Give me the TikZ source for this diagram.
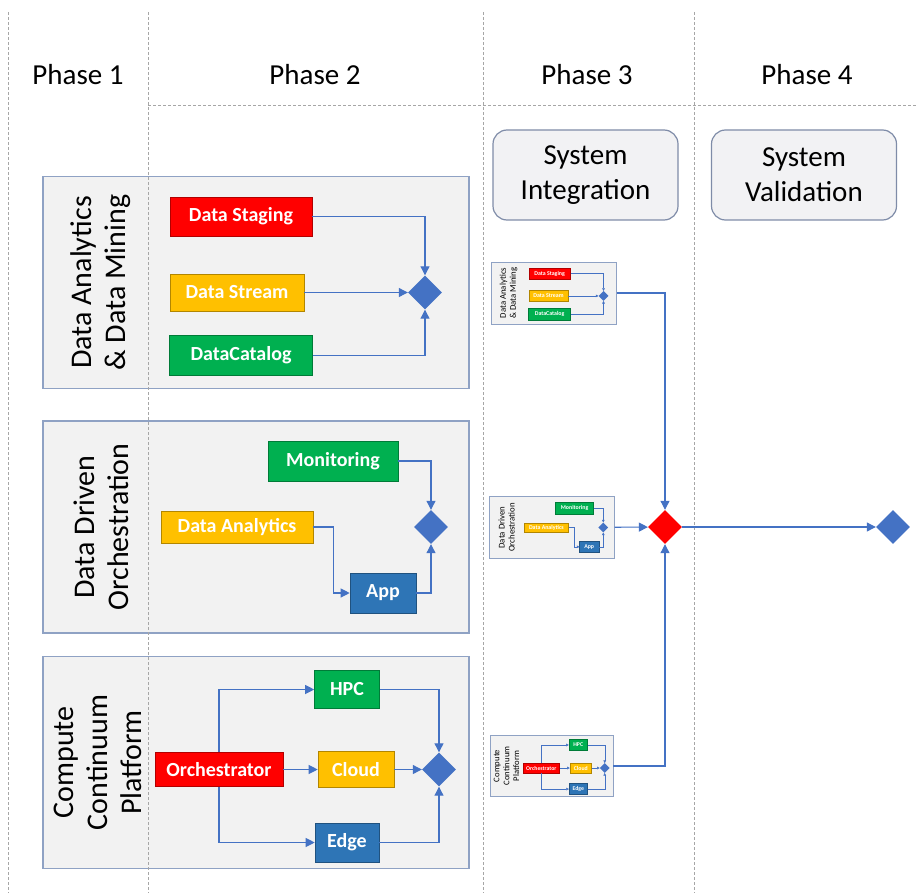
\documentclass[tikz,border=0pt]{standalone}
\usepackage{fontspec}
\setmainfont{Carlito}
\usetikzlibrary{arrows.meta,shapes.geometric}

\definecolor{flowblue}{HTML}{4472C4}
\definecolor{appblue}{HTML}{2E75B6}
\definecolor{hotred}{HTML}{FF0000}
\definecolor{amber}{HTML}{FFC000}
\definecolor{leaf}{HTML}{00B050}
\definecolor{panelfill}{HTML}{F2F2F2}
\definecolor{paneledge}{HTML}{8FA2C4}
\definecolor{stagefill}{HTML}{F2F2F4}
\definecolor{stageedge}{HTML}{7F8CA8}
\definecolor{gridgray}{HTML}{A6A6A6}

\tikzset{
  panel/.style={rectangle, draw=paneledge, fill=panelfill, line width=1.5pt,
    minimum width=426pt, minimum height=212pt, inner sep=0pt},
  sidelabel/.style={rotate=90, align=center, font=\fontsize{30}{34}\selectfont},
  proc/.style={rectangle, fill=#1, draw=#1!70!black, line width=0.6pt, text=white,
    font=\fontsize{20}{24}\selectfont\bfseries, inner sep=0pt},
  gate/.style={diamond, fill=#1, draw=none, minimum width=34pt, minimum height=34pt, inner sep=0pt},
  gate/.default=flowblue,
  flow/.style={draw=flowblue, line width=1.1pt, -{Triangle[length=9pt,width=9pt]}},
  stage/.style={rectangle, rounded corners=14pt, draw=stageedge, fill=stagefill, line width=1.2pt,
    minimum width=185pt, minimum height=90pt, align=center, font=\fontsize{29}{35}\selectfont},
  phase/.style={font=\fontsize{29}{34}\selectfont},
  lane/.style={draw=gridgray, dash pattern=on 3pt off 2pt, line width=0.7pt},
  thumb/.style={flow/.append style={line width=0.35pt, -{Triangle[length=2.6pt,width=2.6pt]}},
    panel/.append style={line width=0.8pt}}
}

% one panel per track, #1 = prefix of the node names
\newcommand{\minepanel}[1]{%
  \node[panel] (#1box) at (0,0) {};
  \node[sidelabel] (#1lbl) at (-155,0) {Data Analytics\\\& Data Mining};
  \node[proc=hotred, minimum width=142pt, minimum height=39pt] (#1stg) at (-15,-66) {Data Staging};
  \node[proc=amber, minimum width=134pt, minimum height=37pt] (#1str) at (-19,10) {Data Stream};
  \node[proc=leaf, minimum width=143pt, minimum height=40pt] (#1cat) at (-15,73) {DataCatalog};
  \node[gate] (#1join) at (169,10) {};
  \draw[flow] (#1stg) -| (#1join);
  \draw[flow] (#1str) -- (#1join);
  \draw[flow] (#1cat) -| (#1join);
}
\newcommand{\steerpanel}[1]{%
  \node[panel] (#1box) at (0,0) {};
  \node[sidelabel] (#1lbl) at (-155,0) {Data Driven\\Orchestration};
  \node[proc=leaf, minimum width=130pt, minimum height=40pt] (#1mon) at (77,-66) {Monitoring};
  \node[proc=amber, minimum width=152pt, minimum height=32pt] (#1ana) at (-19,0) {Data Analytics};
  \node[proc=appblue, minimum width=66pt, minimum height=40pt] (#1app) at (127,66) {App};
  \node[gate] (#1join) at (175,0) {};
  \draw[flow] (#1mon) -| (#1join);
  \draw[flow] (#1ana.east) -- ++(20,0) |- (#1app);
  \draw[flow] (#1app) -| (#1join);
}
\newcommand{\computepanel}[1]{%
  \node[panel] (#1box) at (0,0) {};
  \node[sidelabel] (#1lbl) at (-158,0) {Compute\\Continuum\\Platform};
  \node[proc=hotred, minimum width=128pt, minimum height=34pt] (#1orc) at (-37,7) {Orchestrator};
  \node[proc=leaf, minimum width=65pt, minimum height=38pt] (#1hpc) at (91,-73) {HPC};
  \node[proc=amber, minimum width=76pt, minimum height=36pt] (#1cld) at (100,7) {Cloud};
  \node[proc=appblue, minimum width=64pt, minimum height=39pt] (#1edg) at (91,80) {Edge};
  \node[gate] (#1join) at (183,7) {};
  \draw[flow] (#1orc) |- (#1hpc);
  \draw[flow] (#1orc) -- (#1cld);
  \draw[flow] (#1orc) |- (#1edg);
  \draw[flow] (#1hpc) -| (#1join);
  \draw[flow] (#1cld) -- (#1join);
  \draw[flow] (#1edg) -| (#1join);
}

\begin{document}
\begin{tikzpicture}[x=1pt,y=-1pt]
  \useasboundingbox (0,0) rectangle (917,893);

  % phase 2 panels
  \begin{scope}[shift={(256,282.5)}] \minepanel{da} \end{scope}
  \begin{scope}[shift={(256,527)}] \steerpanel{dd} \end{scope}
  \begin{scope}[shift={(256,762.5)}] \computepanel{cc} \end{scope}

  % phase 3 thumbnails
  \begin{scope}[shift={(554,293)},scale=0.293,transform shape,thumb] \minepanel{tda} \end{scope}
  \begin{scope}[shift={(552,527.5)},scale=0.293,transform shape,thumb] \steerpanel{tdd} \end{scope}
  \begin{scope}[shift={(552,766)},scale=0.288,transform shape,thumb] \computepanel{tcc} \end{scope}

  % lanes
  \draw[lane] (8,12) -- (8,893);
  \draw[lane] (148,12) -- (148,893);
  \draw[lane] (483,12) -- (483,893);
  \draw[lane] (694,12) -- (694,893);
  \draw[lane] (148,105) -- (917,105);

  \node[phase] (p1) at (78,75) {Phase 1};
  \node[phase] (p2) at (315,75) {Phase 2};
  \node[phase] (p3) at (587,75) {Phase 3};
  \node[phase] (p4) at (807,75) {Phase 4};

  \node[stage] (integ) at (585.5,175) {System\\Integration};
  \node[stage] (valid) at (804,175) {System\\Validation};

  \node[gate=hotred] (merge) at (665,527) {};
  \node[gate] (done) at (893,527) {};

  \draw[flow] (tdabox) -| (merge);
  \draw[flow] (tddbox) -- (merge);
  \draw[flow] (tccbox) -| (merge);
  \draw[flow] (merge) -- (done);
\end{tikzpicture}
\end{document}
